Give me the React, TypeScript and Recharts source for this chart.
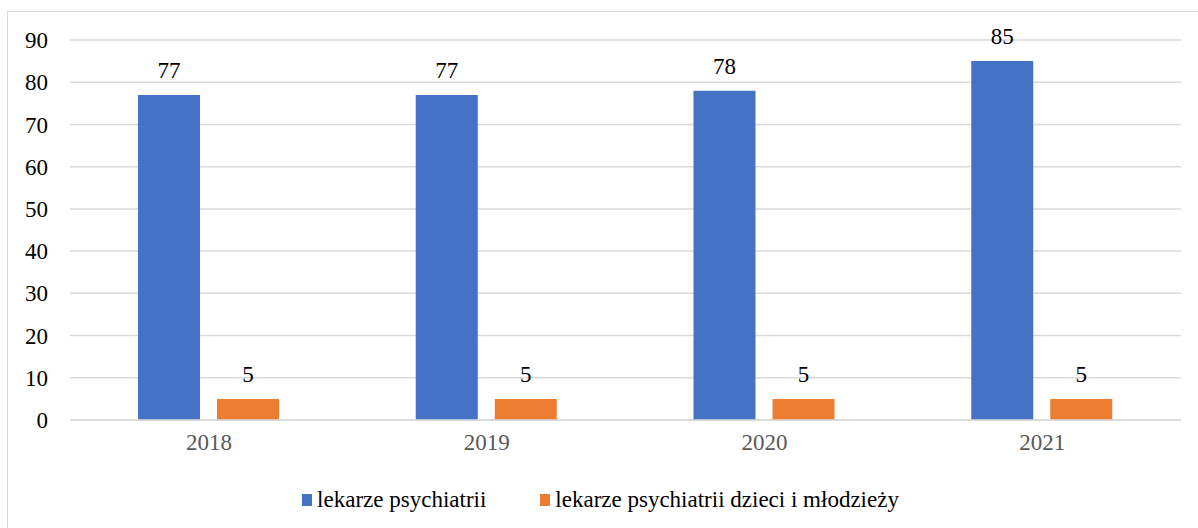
import { Bar, BarChart, CartesianGrid, LabelList, Legend, XAxis, YAxis } from 'recharts'

const years = ['2018', '2019', '2020', '2021']
const psychiatrists = [77, 77, 78, 85]
const childPsychiatrists = [5, 5, 5, 5]
const yTicks = [0, 10, 20, 30, 40, 50, 60, 70, 80, 90]

const seriesNames = ['lekarze psychiatrii', 'lekarze psychiatrii dzieci i młodzieży']
const colors = ['#4472C4', '#ED7D31']

const font = 'Liberation Serif'

const chartData = years.map((year, i) => ({
  year,
  adult: psychiatrists[i],
  child: childPsychiatrists[i],
}))

function LegendContent() {
  return (
    <div
      style={{
        display: 'flex',
        justifyContent: 'center',
        alignItems: 'center',
        paddingTop: 7,
        fontFamily: font,
        fontSize: 23,
        color: '#000',
      }}
    >
      {seriesNames.map((name, i) => (
        <div key={name} style={{ display: 'flex', alignItems: 'center', marginRight: i === 0 ? 54 : 0 }}>
          <span style={{ width: 10, height: 12, background: colors[i], display: 'inline-block', marginRight: 5 }} />
          <span>{name}</span>
        </div>
      ))}
    </div>
  )
}

export default function App() {
  return (
    <div
      style={{
        position: 'absolute',
        left: 7,
        top: 11,
        border: '1px solid #d9d9d9',
        background: '#fff',
      }}
    >
      <BarChart
        width={1200}
        height={516}
        data={chartData}
        margin={{ top: 28, right: 27, bottom: 0, left: 12 }}
        barSize={62}
        barGap={17}
      >
        <CartesianGrid vertical={false} stroke="#d9d9d9" strokeWidth={1.5} />
        <XAxis
          dataKey="year"
          height={60}
          axisLine={{ stroke: '#d9d9d9', strokeWidth: 1.5 }}
          tickLine={false}
          tickSize={0}
          tickMargin={14}
          tick={{ fill: '#595959', fontSize: 23, fontFamily: font }}
        />
        <YAxis
          domain={[0, 90]}
          ticks={yTicks}
          width={50}
          axisLine={false}
          tickLine={false}
          tickSize={0}
          tickMargin={22}
          tick={{ fill: '#000', fontSize: 23, fontFamily: font }}
        />
        <Legend verticalAlign="bottom" height={48} content={<LegendContent />} />
        <Bar dataKey="adult" name={seriesNames[0]} fill={colors[0]} isAnimationActive={false}>
          <LabelList dataKey="adult" position="top" offset={17} fill="#000" fontSize={23} fontFamily={font} />
        </Bar>
        <Bar dataKey="child" name={seriesNames[1]} fill={colors[1]} isAnimationActive={false}>
          <LabelList dataKey="child" position="top" offset={17} fill="#000" fontSize={23} fontFamily={font} />
        </Bar>
      </BarChart>
    </div>
  )
}
